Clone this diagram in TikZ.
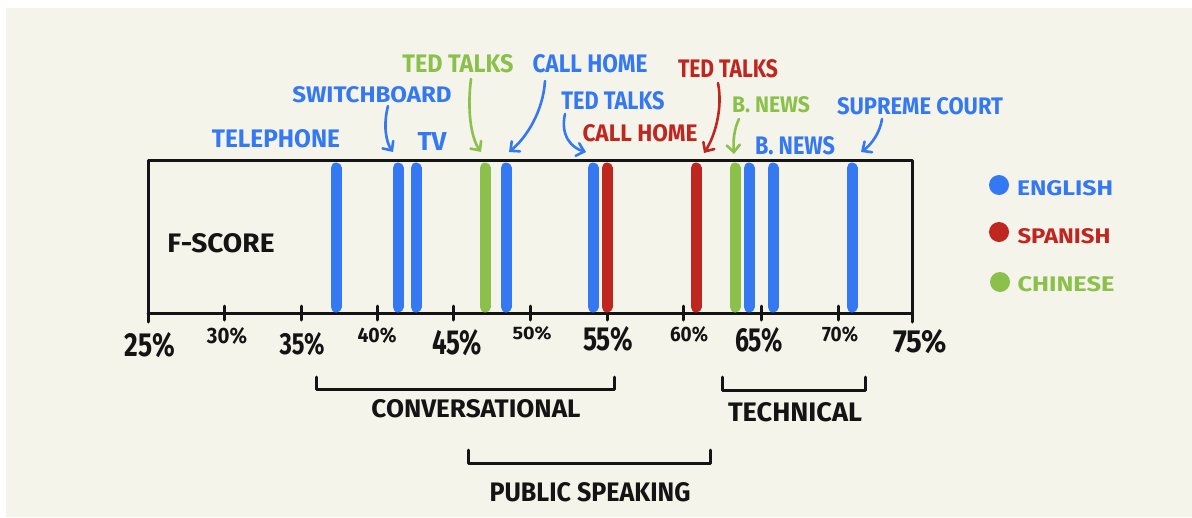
\documentclass[tikz,border=0pt]{standalone}
\usepackage{fontspec}
\setmainfont{Fira Sans}
\usepackage{graphicx}
\usetikzlibrary{arrows.meta}
\definecolor{bg}{RGB}{245,244,235}
\definecolor{eng}{RGB}{52,121,242}
\definecolor{spa}{RGB}{192,38,32}
\definecolor{chi}{RGB}{139,193,74}
\definecolor{ink}{RGB}{20,20,20}
\newcommand{\fitlbl}[3]{\resizebox{#1pt}{#2pt}{\bfseries #3}}
\begin{document}
\begin{tikzpicture}[x=1pt,y=-1pt,
  lbl/.style={inner sep=0pt, anchor=center},
  bar/.style={line width=11pt, line cap=round},
  frame/.style={draw=ink, line width=3pt, line cap=round, line join=round},
  pointer/.style={line width=2.6pt, line cap=round,
    -{Straight Barb[length=7pt,width=13pt,line width=2.6pt,line cap=round]}},
  dot/.style={circle, inner sep=0pt, minimum size=20pt}]
\useasboundingbox (0,0) rectangle (1192,517);
\fill[white] (0,0) rectangle (1192,517);
\fill[bg] (6,8) rectangle (1192,517);

% frame and axis
\draw[frame] (148,322) -- (148,160) -- (912,160) -- (912,322);
\draw[frame] (148,313) -- (912,313);
\foreach \x in {224,301,377,453,530,607,683,761,838}
  \draw[frame] (\x,306) -- (\x,320);

% bars
\foreach \x/\c in {336/eng,398/eng,416/eng,485/chi,506/eng,593/eng,607/spa,696/spa,735/chi,749/eng,773/eng,852/eng}
  \draw[bar,\c] (\x,168) -- (\x,307);

% axis labels
\node[lbl,ink] (p25) at (150,345) {\fitlbl{50}{24}{25\%}};
\node[lbl,ink] (p30) at (227,336) {\fitlbl{40}{16}{30\%}};
\node[lbl,ink] (p35) at (302,344) {\fitlbl{45}{22}{35\%}};
\node[lbl,ink] (p40) at (377,335) {\fitlbl{39}{15}{40\%}};
\node[lbl,ink] (p45) at (457,343) {\fitlbl{50}{25}{45\%}};
\node[lbl,ink] (p50) at (532,333) {\fitlbl{39}{13}{50\%}};
\node[lbl,ink] (p55) at (608,339) {\fitlbl{50}{24}{55\%}};
\node[lbl,ink] (p60) at (689,334) {\fitlbl{38}{15}{60\%}};
\node[lbl,ink] (p65) at (759,340) {\fitlbl{48}{24}{65\%}};
\node[lbl,ink] (p70) at (840,334) {\fitlbl{36}{15}{70\%}};
\node[lbl,ink] (p75) at (920,342) {\fitlbl{54}{23}{75\%}};

\node[lbl,ink] (fscore) at (221,243) {\fitlbl{107}{19}{F-SCORE}};

% top labels
\node[lbl,eng] (telephone) at (276,139) {\fitlbl{128}{18}{TELEPHONE}};
\node[lbl,eng] (switchboard) at (372,95) {\fitlbl{159}{16}{SWITCHBOARD}};
\node[lbl,eng] (tv) at (432,141) {\fitlbl{29}{18}{TV}};
\node[lbl,chi] (tedzh) at (458,64) {\fitlbl{111}{18}{TED TALKS}};
\node[lbl,eng] (callen) at (590,64) {\fitlbl{115}{18}{CALL HOME}};
\node[lbl,eng] (teden) at (613,101) {\fitlbl{103}{18}{TED TALKS}};
\node[lbl,spa] (calles) at (640,133) {\fitlbl{115}{17}{CALL HOME}};
\node[lbl,spa] (tedes) at (728,69) {\fitlbl{100}{18}{TED TALKS}};
\node[lbl,chi] (newszh) at (771,105) {\fitlbl{78}{16}{B. NEWS}};
\node[lbl,eng] (newsen) at (795,146) {\fitlbl{80}{18}{B. NEWS}};
\node[lbl,eng] (court) at (920,106) {\fitlbl{166}{17}{SUPREME COURT}};

% pointer ends
\coordinate (s1) at (388,106); \coordinate (t1) at (393,152);
\coordinate (s2) at (471,79);  \coordinate (t2) at (481,152);
\coordinate (s3) at (545,81);  \coordinate (t3) at (509,152);
\coordinate (s4) at (565,114); \coordinate (t4) at (586,152);
\coordinate (s5) at (718,83);  \coordinate (t5) at (704,153);
\coordinate (s6) at (739,119); \coordinate (t6) at (734,154);
\coordinate (s7) at (882,119); \coordinate (t7) at (861,152);

\draw[pointer,eng] (s1) .. controls (383,125) and (386,142) .. (t1);
\draw[pointer,chi] (s2) .. controls (467,110) and (471,138) .. (t2);
\draw[pointer,eng] (s3) .. controls (543,112) and (526,138) .. (t3);
\draw[pointer,eng] (s4) .. controls (560,136) and (572,148) .. (t4);
\draw[pointer,spa] (s5) .. controls (723,108) and (715,136) .. (t5);
\draw[pointer,chi] (s6) .. controls (734,129) and (733,141) .. (t6);
\draw[pointer,eng] (s7) .. controls (880,133) and (871,145) .. (t7);

% brackets
\draw[frame] (316,377) -- (316,389) -- (614,389) -- (614,377);
\draw[frame] (722,377) -- (722,390) -- (865,390) -- (865,377);
\draw[frame] (468,450) -- (468,463) -- (710,463) -- (710,450);
\node[lbl,ink] (conv) at (476,409) {\fitlbl{209}{18}{CONVERSATIONAL}};
\node[lbl,ink] (tech) at (795,412) {\fitlbl{134}{19}{TECHNICAL}};
\node[lbl,ink] (public) at (590,492) {\fitlbl{201}{19}{PUBLIC SPEAKING}};

% legend
\node[dot,fill=eng] (den) at (999,185) {};
\node[dot,fill=spa] (des) at (999,232) {};
\node[dot,fill=chi] (dzh) at (1000,282) {};
\node[lbl,eng] (english) at (1065,188) {\fitlbl{96}{15}{ENGLISH}};
\node[lbl,spa] (spanish) at (1064,236) {\fitlbl{93}{15}{SPANISH}};
\node[lbl,chi] (chinese) at (1066,284) {\fitlbl{97}{15}{CHINESE}};
\end{tikzpicture}
\end{document}
